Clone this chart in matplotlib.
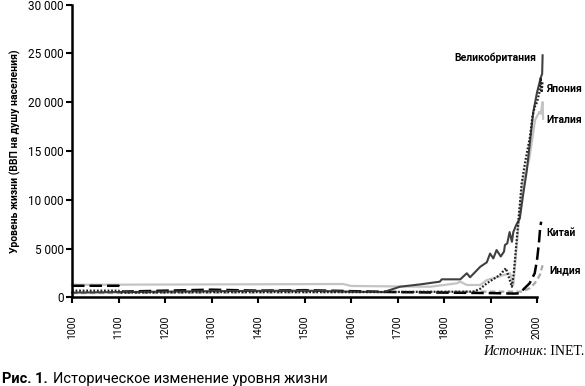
import matplotlib
matplotlib.use('Agg')
import matplotlib.pyplot as plt
from matplotlib.ticker import FuncFormatter

# data (GDP per capita)
uk_years = [1000, 1100, 1300, 1500, 1600, 1670, 1705, 1750, 1791, 1795, 1835, 1849, 1856, 1878,
            1892, 1899, 1906, 1913, 1922, 1929, 1931, 1936, 1941, 1946, 1949, 1955, 1963, 1970,
            1978, 1985, 1992, 2000, 2008, 2011, 2012]
uk_vals = [500, 550, 650, 700, 600, 550, 1100, 1350, 1620, 1860, 1860, 2480, 2070, 3150,
           3600, 4500, 4000, 4860, 4200, 4700, 5370, 5550, 6700, 5700, 6700, 7400, 8100, 10500,
           13000, 16000, 19000, 21000, 22500, 22900, 24800]

japan_years = [1000, 1100, 1103, 1300, 1600, 1863, 1878, 1892, 1920, 1933, 1946, 1950, 1967,
               1975, 1985, 1990, 1995, 2000, 2005, 2008, 2010, 2012]
japan_vals = [700, 700, 500, 550, 550, 600, 900, 1450, 2300, 3000, 1100, 2480, 11700,
              14000, 16500, 18500, 19500, 20000, 21000, 22500, 21000, 22200]

italy_years = [1000, 1583, 1600, 1770, 1827, 1835, 1849, 1878, 1892, 1906, 1928, 1942, 1949,
               1963, 1970, 1983, 1996, 2005, 2008, 2012, 2013]
italy_vals = [1300, 1380, 1180, 1100, 1450, 1620, 1280, 1280, 1790, 1960, 2300, 2480, 1280,
              8950, 12000, 14060, 18200, 19000, 18800, 20000, 18300]

china_years = [1000, 1100, 1108, 1200, 1300, 1400, 1500, 1600, 1700, 1800, 1900, 1950, 1963,
               1973, 1984, 1995, 2000, 2004, 2007, 2009]
china_vals = [1200, 1200, 600, 700, 800, 700, 750, 650, 550, 500, 450, 400, 430,
              940, 1450, 2480, 3840, 5550, 7250, 7760]

india_years = [1000, 1300, 1600, 1900, 1950, 1967, 1984, 1995, 2002, 2006, 2009, 2012]
india_vals = [450, 500, 550, 600, 600, 600, 940, 1450, 1960, 2300, 2800, 3300]

names = ['Великобритания', 'Япония', 'Италия', 'Китай', 'Индия']

plt.rcParams['font.family'] = ['Roboto', 'DejaVu Sans']

fig = plt.figure(figsize=(5.85, 3.86), dpi=100)
ax = fig.add_axes([0.1231, 0.2293, 0.7949, 0.759])

ax.plot(india_years, india_vals, color='#a8a8a8', lw=1.6, ls=(0, (2.5, 1.5)), clip_on=False)
ax.plot(italy_years, italy_vals, color='#c4c4c4', lw=1.6, clip_on=False)
ax.plot(china_years, china_vals, color='black', lw=1.8, ls=(0, (5, 2)), clip_on=False)
ax.plot(uk_years, uk_vals, color='#404040', lw=1.5, clip_on=False)
ax.plot(japan_years, japan_vals, color='#202020', lw=1.6, ls=(0, (0.8, 0.8)), clip_on=False)

ax.set_xlim(1000, 2000)
ax.set_ylim(0, 30000)
ax.set_xticks(range(1000, 2001, 100))
ax.set_yticks(range(0, 30001, 5000))
ax.yaxis.set_major_formatter(FuncFormatter(lambda v, p: f'{int(v):,}'.replace(',', ' ')))
for s in ['top', 'right']:
    ax.spines[s].set_visible(False)
for s in ['left', 'bottom']:
    ax.spines[s].set_linewidth(1.8)
ax.tick_params(direction='out', length=4, width=1.5)
ax.tick_params(axis='y', labelsize=8.5, pad=2)
ax.tick_params(axis='x', labelrotation=90, labelsize=7.5, pad=9)
ax.set_ylabel('Уровень жизни (ВВП на душу населения)', fontsize=7.5, fontweight='bold', labelpad=5)

# series labels
lab = dict(fontsize=7.5, fontweight='bold', va='center', clip_on=False)
ax.text(1999, 24500, names[0], ha='right', **lab)
ax.text(2020, 21400, names[1], ha='left', **lab)
ax.text(2020, 18200, names[2], ha='left', **lab)
ax.text(2020, 6600, names[3], ha='left', **lab)
ax.text(2027, 2800, names[4], ha='left', **lab)

# source line, right aligned at the figure edge
serif = ['Liberation Serif', 'DejaVu Serif']
r = fig.canvas.get_renderer()
t2 = fig.text(0.998, 0.080, ': INET.', family=serif, fontsize=10, ha='right', va='baseline')
x0 = t2.get_window_extent(r).x0 / fig.bbox.width
fig.text(x0, 0.080, 'Источник', family=serif, style='italic', fontsize=10, ha='right', va='baseline')

# caption
t1 = fig.text(0.003, 0.008, 'Рис. 1.', fontsize=10.5, fontweight='bold', ha='left', va='baseline')
x1 = t1.get_window_extent(r).x1 / fig.bbox.width
fig.text(x1 + 0.01, 0.008, 'Историческое изменение уровня жизни', fontsize=10.5, ha='left', va='baseline')

fig.savefig('out.png', dpi=100)
